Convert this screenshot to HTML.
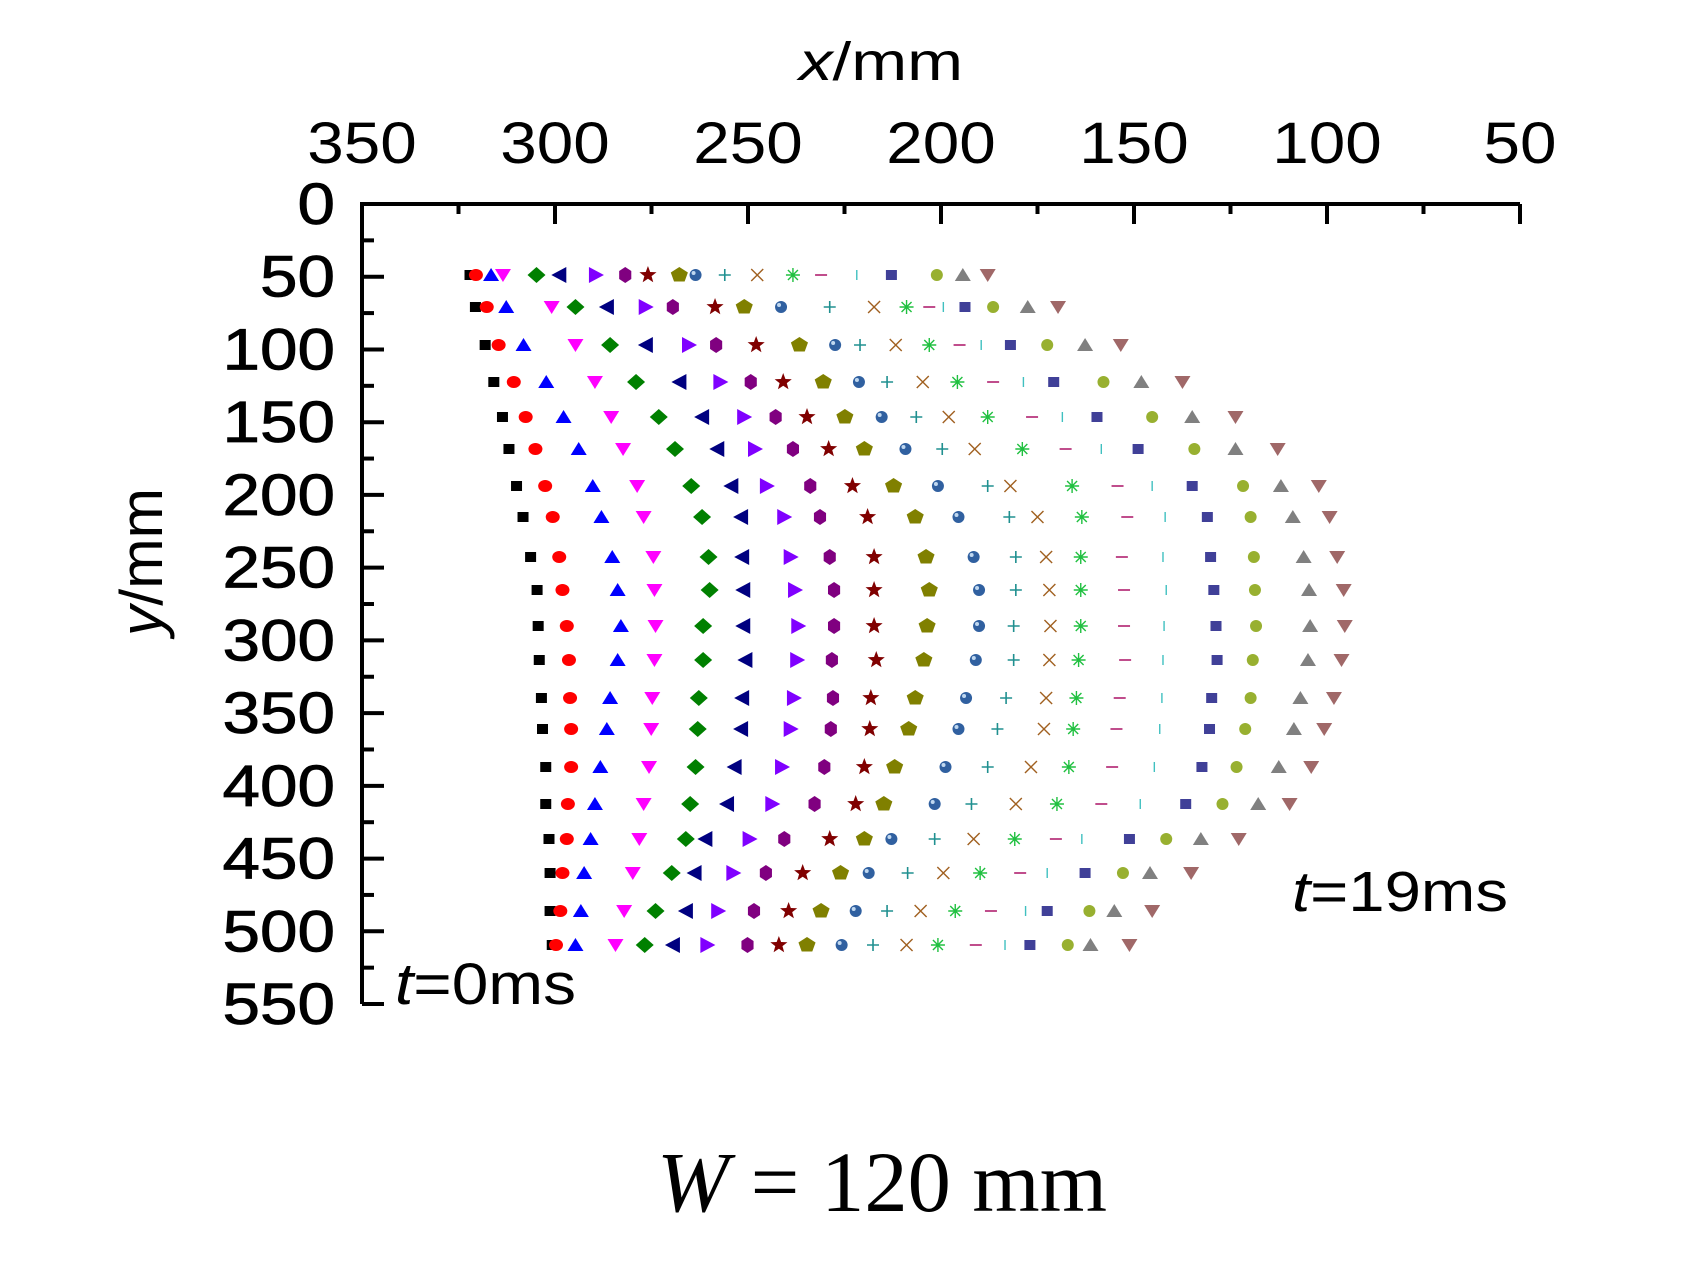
<!DOCTYPE html>
<html><head><meta charset="utf-8"><style>
html,body{margin:0;padding:0;background:#fff;}
svg{display:block;}
text{font-family:"Liberation Sans",sans-serif;fill:#000;}
</style></head><body>
<svg id="s" width="1700" height="1279" viewBox="0 0 1700 1279" xmlns="http://www.w3.org/2000/svg">
<g id="axes" stroke="#000" stroke-width="4" fill="none"></g>
<g id="labels"></g>
<g id="data"></g>
<text x="799" y="80" font-size="54" textLength="164" lengthAdjust="spacingAndGlyphs"><tspan font-style="italic">x</tspan>/mm</text>
<text transform="translate(162,636) rotate(-90)" x="0" y="0" font-size="60" textLength="148" lengthAdjust="spacingAndGlyphs"><tspan font-style="italic">y</tspan>/mm</text>
<text x="395" y="1004" font-size="58" textLength="181" lengthAdjust="spacingAndGlyphs"><tspan font-style="italic">t</tspan>=0ms</text>
<text x="1292" y="911" font-size="57" textLength="216" lengthAdjust="spacingAndGlyphs"><tspan font-style="italic">t</tspan>=19ms</text>
<text x="657" y="1211" font-size="86" style="font-family:'Liberation Serif',serif" textLength="450" lengthAdjust="spacingAndGlyphs"><tspan font-style="italic">W</tspan> = 120 mm</text>
</svg>
<script>
var NS="http://www.w3.org/2000/svg";
function el(p,t,a){var e=document.createElementNS(NS,t);for(var k in a)e.setAttribute(k,a[k]);p.appendChild(e);return e;}
var ax=document.getElementById('axes'),lb=document.getElementById('labels'),dt=document.getElementById('data');
var X0=362,X1=1520,Y0=204,YS=72.73/50;
function xm(v){return X0+(350-v)*(X1-X0)/300;}
function ym(v){return Y0+v*YS;}
el(ax,'path',{d:'M'+X0+' '+ym(550)+' L'+X0+' '+Y0+' L'+X1+' '+Y0});
for(var v=350;v>=50;v-=25){var x=xm(v);var L=(v%50==0)?20:10;el(ax,'line',{x1:x,y1:Y0,x2:x,y2:Y0+L});
 if(v%50==0){var s=String(v);var t=el(lb,'text',{x:x,y:163,'font-size':58,'text-anchor':'middle',textLength:s.length*36.5,lengthAdjust:'spacingAndGlyphs'});t.textContent=s;}}
for(var v=0;v<=550;v+=25){var y=ym(v);var L=(v%50==0)?22:12;el(ax,'line',{x1:X0,y1:y,x2:X0+L,y2:y});
 if(v%50==0){var s=String(v);var t=el(lb,'text',{x:335,y:y+20,'font-size':58,'text-anchor':'end',textLength:s.length*37.5,lengthAdjust:'spacingAndGlyphs','stroke':'#000','stroke-width':0.8});t.textContent=s;}}
var rows=[275,307,345,382,417,449,486,517,557,590,626,660,698,729,767,804,839,873,911,945];
var xs=[
[433,438,452,463,494,516,548,576,597,626,641,668,698,731,757,790,822,864,888,911],
[438,448,466,508,530,560,594,620,659,686,720,765,806,836,857,870,890,916,948,976],
[447,459,482,530,562,596,634,660,697,737,770,793,826,857,885,905,932,966,1001,1034],
[455,473,503,548,586,627,663,692,722,759,792,818,851,883,916,944,972,1018,1053,1091],
[463,484,519,563,607,648,685,715,744,779,813,845,875,911,952,980,1012,1063,1100,1140],
[469,493,533,574,622,662,695,731,764,797,835,869,899,943,983,1016,1050,1102,1140,1179],
[476,502,546,587,637,675,706,747,786,824,865,911,932,989,1031,1063,1100,1147,1182,1217],
[482,509,554,593,647,684,722,756,800,844,884,931,957,998,1040,1075,1114,1154,1193,1227],
[489,515,564,602,653,685,728,765,806,854,898,937,965,997,1035,1073,1117,1157,1203,1234],
[495,518,569,603,654,686,732,769,806,857,903,937,968,997,1037,1076,1120,1158,1208,1240],
[496,522,572,604,648,686,735,769,806,855,903,935,969,997,1037,1074,1122,1159,1209,1241],
[497,524,569,603,648,688,734,767,808,852,900,935,968,995,1038,1073,1123,1156,1207,1238],
[499,525,562,601,644,685,731,768,803,844,891,928,965,993,1033,1072,1118,1154,1200,1231],
[500,526,559,600,643,684,728,766,802,838,884,920,963,990,1030,1070,1116,1149,1194,1222],
[503,526,553,598,641,678,720,760,797,825,872,911,951,986,1026,1065,1109,1141,1180,1210],
[503,523,548,593,636,671,711,751,789,815,862,896,937,975,1016,1052,1094,1128,1161,1190],
[506,522,544,589,632,651,690,723,765,797,822,862,898,936,974,998,1042,1076,1108,1143],
[507,518,538,583,619,641,675,706,740,775,801,837,870,904,941,966,1001,1036,1061,1099],
[507,516,535,575,604,633,661,695,727,757,789,818,849,881,914,946,966,1005,1028,1063],
[509,512,530,567,594,621,651,689,718,744,776,805,836,865,900,927,950,985,1006,1042]];
function poly(c,pts,col){el(dt,'polygon',{points:pts.map(function(p){return (c[0]+p[0])+','+(c[1]+p[1]);}).join(' '),fill:col});}
function ngon(n,r,ry,rot){var a=[];for(var i=0;i<n;i++){var t=rot+i*2*Math.PI/n;a.push([r*Math.cos(t),ry*Math.sin(t)]);}return a;}
function star(r){var a=[];for(var i=0;i<10;i++){var t=-Math.PI/2+i*Math.PI/5;var rr=i%2?r*0.42:r;a.push([rr*Math.cos(t),rr*Math.sin(t)]);}return a;}
function draw(k,x,y){var c=[x,y];
switch(k){
case 0:el(dt,'rect',{x:x-6,y:y-5,width:11,height:10,fill:'#000'});break;
case 1:el(dt,'ellipse',{cx:x,cy:y,rx:7,ry:6,fill:'#ff0000'});break;
case 2:poly(c,[[0,-7],[8,6],[-8,6]],'#0000ff');break;
case 3:poly(c,[[-8,-6],[8,-6],[0,7]],'#ff00ff');break;
case 4:poly(c,[[0,-8],[9,0],[0,8],[-9,0]],'#008000');break;
case 5:poly(c,[[-9,0],[6,-8],[6,8]],'#000080');break;
case 6:poly(c,[[9,0],[-6,-8],[-6,8]],'#8000ff');break;
case 7:poly(c,ngon(6,7,8,Math.PI/2),'#800080');break;
case 8:poly(c,star(9),'#800000');break;
case 9:poly(c,ngon(5,9,8,-Math.PI/2),'#808000');break;
case 10:el(dt,'ellipse',{cx:x,cy:y,rx:6,ry:6,fill:'#3060a0'});el(dt,'ellipse',{cx:x-2,cy:y-2,rx:2,ry:2,fill:'#c0d8f0'});break;
case 11:el(dt,'path',{d:'M'+(x-6)+' '+y+'h12M'+x+' '+(y-6)+'v12',stroke:'#209090','stroke-width':1.6});break;
case 12:el(dt,'path',{d:'M'+(x-6)+' '+(y-6)+'l12 12M'+(x+6)+' '+(y-6)+'l-12 12',stroke:'#a06020','stroke-width':1.4});break;
case 13:el(dt,'path',{d:'M'+(x-7)+' '+y+'h14M'+x+' '+(y-7)+'v14M'+(x-5)+' '+(y-5)+'l10 10M'+(x+5)+' '+(y-5)+'l-10 10',stroke:'#20c040','stroke-width':1.4});break;
case 14:el(dt,'path',{d:'M'+(x-6)+' '+y+'h12',stroke:'#b02070','stroke-width':1.6});break;
case 15:el(dt,'path',{d:'M'+x+' '+(y-5)+'v10',stroke:'#40c0c0','stroke-width':1.4});break;
case 16:el(dt,'rect',{x:x-5.5,y:y-5,width:11,height:10,fill:'#404098'});break;
case 17:el(dt,'ellipse',{cx:x,cy:y,rx:6,ry:6,fill:'#98b030'});break;
case 18:poly(c,[[0,-7],[8,6],[-8,6]],'#808080');break;
case 19:poly(c,[[-8,-6],[8,-6],[0,7]],'#a06868');break;
}}
for(var r=0;r<20;r++)for(var k=0;k<20;k++)draw(k,1.082*xs[r][k]+2,rows[r]);
</script>
</body></html>
